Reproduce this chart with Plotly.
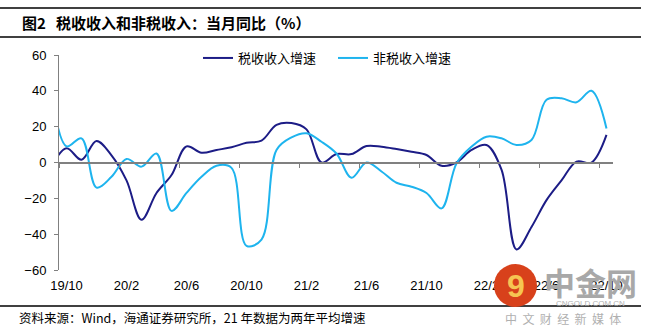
import plotly.graph_objects as go

# Monthly categories (19/9 is only partly visible: clipped at the left axis)
months = ["19/9", "19/10", "19/11", "19/12",
          "20/1", "20/2", "20/3", "20/4", "20/5", "20/6", "20/7", "20/8", "20/9", "20/10", "20/11", "20/12",
          "21/1", "21/2", "21/3", "21/4", "21/5", "21/6", "21/7", "21/8", "21/9", "21/10", "21/11", "21/12",
          "22/1", "22/2", "22/3", "22/4", "22/5", "22/6", "22/7", "22/8", "22/9", "22/10"]

tax_growth = [-2, 8, 1.5, 12, 4,
              -10, -32, -17, -7, 9, 5.5, 7, 8.5, 11, 12.2, 21,
              22, 18.5, 0, 4.7, 4.7, 9.2, 8.8, 7.5, 6, 4.2, -1.8, 0,
              7, 9.8, -4, -48.5, -36, -21, -10, 0.5, 0, 15.4]

nontax_growth = [40, 9, 13.5, -14, -8,
                 2, -2.3, 5, -27, -17, -8, -1.8, -3, -46.5, -43, 7,
                 14, 16.3, 11.6, 5, -8.5, 0, -5, -11.3, -13.5, -17, -25.6, -0.5,
                 8.8, 14.4, 13.5, 9.8, 12.6, 35, 35.8, 33.6, 40, 19]

tick_labels = ["19/10", "20/2", "20/6", "20/10", "21/2", "21/6", "21/10", "22/2", "22/6", "22/10"]

series_names = ["税收收入增速", "非税收入增速"]
colors = ["#1C1C86", "#1EB4EE"]

# numeric position of each month: 19/10 -> 0
xpos = list(range(-1, len(months) - 1))
label_pos = [xpos[months.index(t)] for t in tick_labels]
tick_marks = [p - 0.5 for p in label_pos]

W, H = 649, 336
L, R, T, B = 59, 613, 55, 270


def px(x):
    return (x - L) / (R - L)


def py(y):
    return (B - y) / (B - T)


fig = go.Figure()
for name, vals, col in zip(series_names, [tax_growth, nontax_growth], colors):
    fig.add_trace(go.Scatter(x=xpos, y=vals, name=name, mode="lines",
                             line=dict(color=col, width=2, shape="spline", smoothing=1),
                             hoverinfo="skip"))

# invisible trace carrying the zero-line axis with its tick marks
fig.add_trace(go.Scatter(x=[tick_marks[0]], y=[None], xaxis="x2", showlegend=False,
                         mode="lines", hoverinfo="skip"))

xrange = [-0.5, -0.5 + (R - L) / 15.0]

fig.update_layout(
    width=W, height=H,
    margin=dict(l=L, r=W - R, t=T, b=H - B, pad=0),
    paper_bgcolor="white", plot_bgcolor="white",
    font=dict(family="Liberation Sans, Arial, Noto Sans CJK SC", size=13, color="black"),
    xaxis=dict(range=xrange, tickvals=label_pos, ticktext=tick_labels,
               showgrid=False, zeroline=False, showline=False,
               ticks="outside", ticklen=3, tickcolor="rgba(0,0,0,0)",
               tickfont=dict(family="Liberation Sans, Arial", size=13)),
    xaxis2=dict(range=xrange, overlaying="x", anchor="free", position=0.5,
                tickvals=tick_marks, showticklabels=False, showgrid=False, zeroline=False,
                showline=True, linecolor="#808080", linewidth=2,
                ticks="outside", ticklen=4, tickwidth=1, tickcolor="#808080"),
    yaxis=dict(range=[-60, 60], tickvals=[-60, -40, -20, 0, 20, 40, 60],
               showgrid=False, zeroline=False, showline=True, linecolor="#808080", linewidth=1,
               ticks="outside", ticklen=4, tickcolor="#808080", ticklabelstandoff=5,
               tickfont=dict(family="Liberation Sans, Arial", size=13)),
    legend=dict(orientation="h", x=px(198), y=py(58), xanchor="left", yanchor="middle",
                font=dict(family="Noto Sans CJK SC", size=13),
                entrywidth=90, entrywidthmode="pixels", bgcolor="rgba(0,0,0,0)",
                itemclick=False, itemdoubleclick=False),
    showlegend=True,
)

# title and frame lines
fig.add_annotation(xref="paper", yref="paper", x=px(20), y=py(22.5), xanchor="left", yanchor="middle",
                   text="<b>图2   税收收入和非税收入：当月同比（%）</b>", showarrow=False,
                   font=dict(family="Noto Sans CJK SC", size=15, color="black"))
for yy in [8, 37, 306]:
    fig.add_shape(type="line", xref="paper", yref="paper", x0=px(0), x1=px(641), y0=py(yy), y1=py(yy),
                  line=dict(color="black", width=1.5))

fig.add_annotation(xref="paper", yref="paper", x=px(17), y=py(317), xanchor="left", yanchor="middle",
                   text="资料来源：Wind，海通证券研究所，21 年数据为两年平均增速", showarrow=False,
                   font=dict(family="Noto Sans CJK SC", size=12.5, color="black"))

# watermark
fig.add_shape(type="circle", xref="paper", yref="paper", x0=px(494), x1=px(537), y0=py(264), y1=py(307),
              fillcolor="#D8411B", line=dict(width=0))
wm = dict(xref="paper", yref="paper", showarrow=False, xanchor="center", yanchor="middle")
fig.add_annotation(x=px(516), y=py(286), text="<b>9</b>",
                   font=dict(family="Liberation Sans", size=32, color="#F6C552"), **wm)
fig.add_annotation(x=px(590), y=py(281), text="<b>中金网</b>",
                   font=dict(family="Noto Sans CJK SC", size=31, color="#A8A8A8"), **wm)
fig.add_annotation(x=px(590), y=py(303), text="CNGOLD.COM.CN",
                   font=dict(family="Liberation Sans", size=8, color="#B0B0B0"), **wm)
fig.add_annotation(x=px(563), y=py(318), text="中  文  财  经  新  媒  体",
                   font=dict(family="Noto Sans CJK SC", size=12, color="#B0B0B0"), **wm)

fig.write_html("out.html")
